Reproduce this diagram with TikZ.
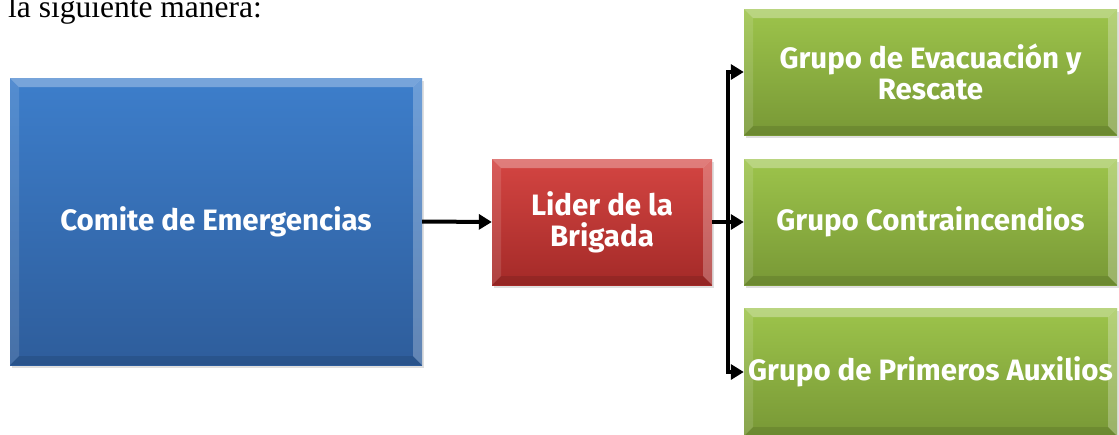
\documentclass[tikz,border=0pt]{standalone}
\usepackage{fontspec}
\setmainfont{Liberation Serif}
\newfontfamily\boxfont{Fira Sans}
\usetikzlibrary{arrows.meta,shadows}
\definecolor{blueTop}{HTML}{3D7ECB}
\definecolor{blueBot}{HTML}{2E5D9B}
\definecolor{redTop}{HTML}{D44542}
\definecolor{redBot}{HTML}{A42A28}
\definecolor{greenTop}{HTML}{9DC44B}
\definecolor{greenBot}{HTML}{789836}
\tikzset{
  bevel/.style={
    path picture={
      \fill[white,opacity=.3] (path picture bounding box.north west) -- (path picture bounding box.north east)
        -- ([shift={(-9pt,-9pt)}]path picture bounding box.north east) -- ([shift={(9pt,-9pt)}]path picture bounding box.north west) -- cycle;
      \fill[white,opacity=.12] (path picture bounding box.north west) -- ([shift={(9pt,-9pt)}]path picture bounding box.north west)
        -- ([shift={(9pt,9pt)}]path picture bounding box.south west) -- (path picture bounding box.south west) -- cycle;
      \fill[white,opacity=.25] (path picture bounding box.north east) -- ([shift={(-9pt,-9pt)}]path picture bounding box.north east)
        -- ([shift={(-9pt,9pt)}]path picture bounding box.south east) -- (path picture bounding box.south east) -- cycle;
      \fill[black,opacity=.1] (path picture bounding box.south west) -- ([shift={(9pt,9pt)}]path picture bounding box.south west)
        -- ([shift={(-9pt,9pt)}]path picture bounding box.south east) -- (path picture bounding box.south east) -- cycle;
    }},
  box/.style={rectangle, inner sep=0pt, align=center, text=white,
    font=\boxfont\bfseries\fontsize{29.5}{31}\selectfont, bevel,
    drop shadow={shadow xshift=2pt,shadow yshift=-3pt,opacity=.25}},
  bluebox/.style={box, top color=blueTop, bottom color=blueBot},
  redbox/.style={box, top color=redTop, bottom color=redBot},
  greenbox/.style={box, top color=greenTop, bottom color=greenBot},
  conn/.style={line width=4pt, -{Triangle[length=13pt,width=15pt]}},
  bar/.style={line width=3.5pt, line cap=rect},
}
\begin{document}
\begin{tikzpicture}[x=1pt,y=-1pt]
\useasboundingbox[fill=white] (0,0) rectangle (1119,434);
\node[anchor=base west, inner sep=0pt, font=\fontsize{31.5}{36}\selectfont] (intro) at (8,17) {la siguiente manera:};
\node[bluebox, minimum width=412pt, minimum height=287pt] (comite) at (216,221.5) {Comite de Emergencias};
\node[redbox, minimum width=220pt, minimum height=126pt] (lider) at (602,222) {Lider de la\\Brigada};
\node[greenbox, minimum width=373pt, minimum height=126pt] (evac) at (930.5,72) {Grupo de Evacuación y\\Rescate};
\node[greenbox, minimum width=373pt, minimum height=126pt] (contra) at (930.5,222) {Grupo Contraincendios};
\node[greenbox, minimum width=373pt, minimum height=128pt] (aux) at (930.5,372) {Grupo de Primeros Auxilios};
\coordinate (bx) at (728,222);
\draw[conn] (comite.east) -- (lider.west);
\draw[bar] (bx |- evac.west) -- (bx |- aux.west);
\draw[conn] (lider.east) -- (contra.west);
\draw[conn] (bx |- evac.west) -- (evac.west);
\draw[conn] (bx |- aux.west) -- (aux.west);
\end{tikzpicture}
\end{document}
